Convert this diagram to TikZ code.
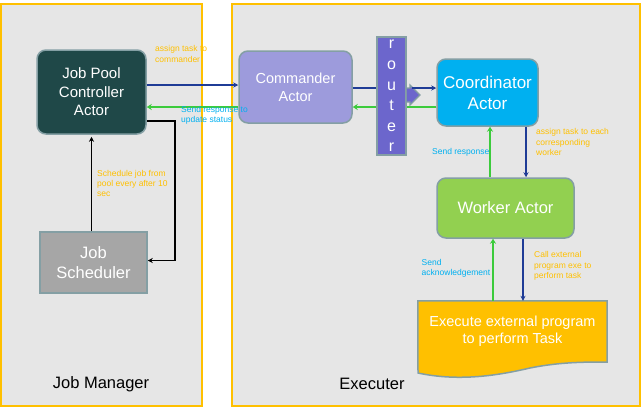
\documentclass[tikz,border=0pt]{standalone}
\usepackage{fontspec}
\setmainfont{Liberation Sans}
\usetikzlibrary{arrows.meta,calc}
\definecolor{panelbg}{HTML}{E6E6E6}
\definecolor{panelline}{HTML}{FFC000}
\definecolor{edge}{HTML}{849FA4}
\definecolor{jpcfill}{HTML}{1F4848}
\definecolor{cmdfill}{HTML}{9D9BDC}
\definecolor{routerfill}{HTML}{6C66CC}
\definecolor{coordfill}{HTML}{00B0F0}
\definecolor{workerfill}{HTML}{92D050}
\definecolor{execfill}{HTML}{FFC000}
\definecolor{schedfill}{HTML}{A6A6A6}
\definecolor{navy}{HTML}{1F3C96}
\definecolor{grn}{HTML}{3CCB3C}
\definecolor{cyanlbl}{HTML}{00B0F0}
\definecolor{orglbl}{HTML}{FFC000}
\begin{document}
\begin{tikzpicture}[x=1pt,y=-1pt,
  panel/.style={fill=panelbg,draw=panelline,line width=2pt},
  actor/.style={draw=edge,line width=1.5pt,rounded corners=9pt,text=white,align=center,inner sep=0pt},
  bluearr/.style={draw=navy,line width=1.4pt,-{Stealth[length=5pt,width=5pt]}},
  grnarr/.style={draw=grn,line width=1.8pt,-{Stealth[length=5pt,width=6pt]}},
  blkarr/.style={draw=black,line width=1.8pt,-{Stealth[length=5pt,width=5pt]}},
  lblo/.style={text=orglbl,font=\fontsize{8.5}{10.3}\selectfont,align=left,anchor=west,inner sep=0pt},
  lblc/.style={text=cyanlbl,font=\fontsize{8.5}{10.3}\selectfont,align=left,anchor=west,inner sep=0pt},
  title/.style={text=black,font=\fontsize{16.5}{20}\selectfont,inner sep=0pt}
]
\useasboundingbox (0,0) rectangle (644,408);
\fill[white] (0,0) rectangle (644,408);
\draw[panel] (1,4) rectangle (202,406);
\draw[panel] (232,4) rectangle (640,406);

% nodes
\node[actor,fill=jpcfill,minimum width=109pt,minimum height=84pt,font=\fontsize{15}{18.5}\selectfont] (JPC) at (91.5,92) {Job Pool\\Controller\\Actor};
\node[actor,fill=schedfill,rounded corners=0pt,minimum width=107pt,minimum height=61pt,font=\fontsize{16.5}{20.5}\selectfont] (Sched) at (93.5,262.5) {Job\\Scheduler};
\node[actor,fill=cmdfill,minimum width=113pt,minimum height=72pt,font=\fontsize{14.5}{18}\selectfont] (Cmd) at (295.5,87) {Commander\\Actor};
\node[actor,fill=coordfill,minimum width=101pt,minimum height=67pt,font=\fontsize{17}{21}\selectfont] (Coord) at (487.5,92.5) {Coordinator\\Actor};
\node[actor,fill=workerfill,minimum width=137pt,minimum height=60pt,font=\fontsize{16.5}{20}\selectfont] (Worker) at (505.5,208) {Worker Actor};
\node[inner sep=0pt,minimum width=189pt,minimum height=60pt,text=white,align=center,font=\fontsize{14.5}{17}\selectfont] (Exec) at (512.5,331) {};

% executive document shape
\draw[draw=edge,line width=1.5pt,fill=execfill] (Exec.north west) -- (Exec.north east) -- (607,362)
  .. controls (585,362) and (560,362) .. (530,368)
  .. controls (500,375) and (460,382) .. (418,373) -- cycle;
\node[text=white,align=center,font=\fontsize{14.5}{17}\selectfont,inner sep=0pt] (ExecText) at (Exec.center) {Execute external program\\to perform Task};

% connectors left
\coordinate (a1) at ([yshift=7pt]JPC.east);
\coordinate (a2) at ([yshift=-15pt]JPC.east);
\coordinate (a3) at ([yshift=-29pt]JPC.east);
\draw[bluearr] (a1) -- (a1 -| Cmd.west);
\draw[grnarr] (a2 -| Cmd.west) -- (a2);
\draw[blkarr] (JPC.south |- Sched.north) -- ([yshift=-2pt]JPC.south);
\draw[blkarr] (a3) -- ++(28,0) |- ([yshift=2pt]Sched.east);

% router (arrows first so router lies over them)
\coordinate (r0) at (391.5,96);
\coordinate (b1) at ([yshift=-1pt]Cmd.east);
\coordinate (g1) at (a2 -| Coord.west);
\draw[bluearr] (b1) -- (b1 -| r0) ;
\draw[grnarr] (g1) -- (g1 -| Cmd.east);
\node[draw=edge,line width=1.5pt,fill=routerfill,minimum width=29pt,minimum height=118pt,inner sep=0pt,text=white,align=center,font=\fontsize{16}{20.6}\selectfont] (Router) at (r0) {r\\o\\u\\t\\e\\r};
\draw[draw=edge,line width=1.2pt,fill=routerfill] (Router.east |- 0,88) -- (410,88) -- (410,85) -- (420,95) -- (410,105) -- (410,102) -- (Router.east |- 0,102);
\draw[bluearr] (412,88) -- (412,88 -| Coord.west);
\draw[draw=grn,line width=1.8pt] (g1) -- (410,107);

% connectors right
\coordinate (c1) at ([xshift=20.5pt]Worker.north);
\coordinate (c2) at ([xshift=-15.5pt]Worker.north);
\draw[bluearr] (c1 |- Coord.south) -- (c1);
\draw[grnarr] (c2) -- (c2 |- Coord.south);
\coordinate (d1) at ([xshift=17.5pt]Worker.south);
\coordinate (d2) at ([xshift=-12.5pt]Worker.south);
\draw[bluearr] (d1) -- (d1 |- Exec.north);
\draw[grnarr] (d2 |- Exec.north) -- (d2);

% labels
\node[lblo] (l1) at (155,54) {assign task to\\commander};
\node[lblc] (l2) at (181,115.5) {Send response to\\update status};
\node[lblo] (l3) at (97,183.5) {Schedule job from\\pool every after 10\\sec};
\node[lblc] (l4) at (432,152) {Send response};
\node[lblo] (l5) at (536,142) {assign task to each\\corresponding\\worker};
\node[lblc] (l6) at (421.5,268.5) {Send\\acknowledgement};
\node[lblo] (l7) at (534,266) {Call external\\program exe to\\perform task};

\node[title] (t1) at (101,384) {Job Manager};
\node[title] (t2) at (372,384) {Executer};
\end{tikzpicture}
\end{document}
